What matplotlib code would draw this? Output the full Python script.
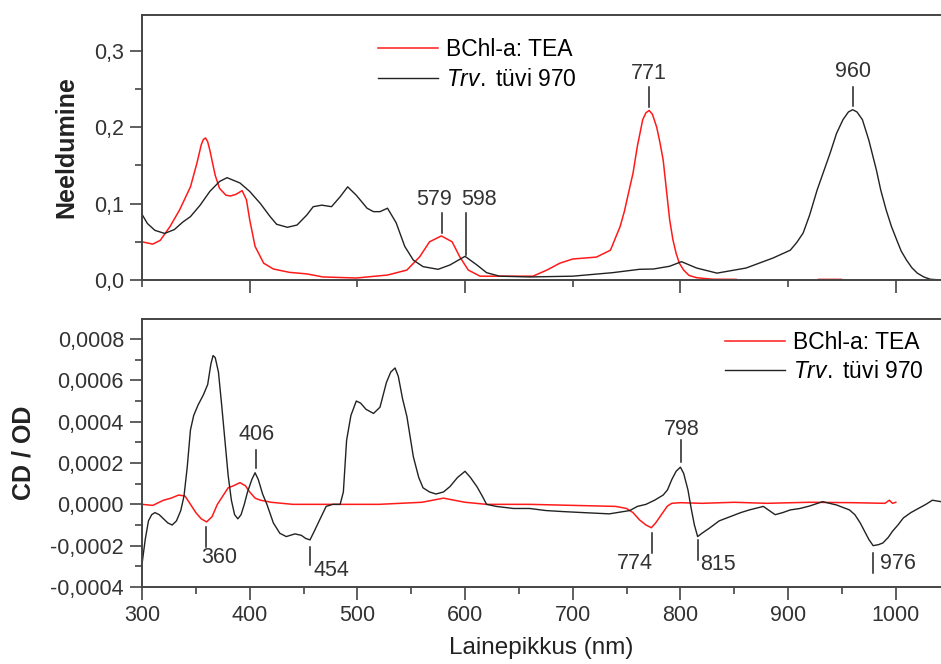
import numpy as np
import matplotlib.pyplot as plt
from matplotlib.ticker import MultipleLocator, FuncFormatter

plt.rcParams.update({'font.family': 'Liberation Sans', 'font.size': 15.5,
                     'mathtext.fontset': 'custom',
                     'mathtext.rm': 'Liberation Sans',
                     'mathtext.it': 'Liberation Sans:italic'})

# --- absorption (top) ---
abs_nm_red = [300, 310, 317, 326, 335, 345, 351, 355, 357, 359, 361, 363, 366, 368, 372,
              378, 382, 387, 393, 397, 400, 405, 413, 422, 437, 453, 468, 499, 528, 546,
              558, 567, 578, 588, 595, 603, 614, 663, 676, 688, 700, 722, 735, 744, 748,
              751, 756, 760, 765, 768, 771, 774, 778, 781, 784, 787, 790, 793, 796, 799,
              803, 808, 815, 830, 852, 856, 925, 928, 950, 953, 1000]
abs_red = [0.050, 0.047, 0.052, 0.070, 0.092, 0.122, 0.153, 0.177, 0.184, 0.186, 0.181, 0.170, 0.150, 0.137, 0.120,
           0.111, 0.110, 0.112, 0.117, 0.105, 0.079, 0.044, 0.022, 0.0144, 0.010, 0.008, 0.004, 0.0026, 0.0065, 0.013,
           0.0306, 0.050, 0.0577, 0.050, 0.0306, 0.013, 0.005, 0.005, 0.013, 0.022, 0.0275, 0.030, 0.039, 0.070, 0.090,
           0.109, 0.140, 0.175, 0.210, 0.219, 0.222, 0.217, 0.200, 0.180, 0.157, 0.118, 0.079, 0.053, 0.035, 0.022,
           0.013, 0.006, 0.003, 0.001, 0.0008, -0.003, -0.003, 0.0008, 0.0008, -0.003, -0.003]

abs_nm_black = [300, 305, 312, 321, 330, 338, 345, 354, 363, 372, 379, 391, 400, 410, 419, 425,
                435, 444, 453, 459, 467, 476, 484, 491, 499, 509, 515, 521, 528, 536, 544, 552,
                561, 575, 586, 600, 611, 620, 632, 660, 700, 737, 762, 775, 790, 801, 815, 834,
                861, 886, 902, 908, 914, 920, 927, 933, 939, 945, 951, 956, 960, 964, 969, 975,
                982, 986, 991, 996, 1001, 1005, 1010, 1015, 1020, 1026, 1032, 1042]
abs_black = [0.086, 0.074, 0.065, 0.061, 0.066, 0.076, 0.083, 0.098, 0.116, 0.129, 0.134, 0.127, 0.116, 0.100, 0.083, 0.073,
             0.069, 0.072, 0.085, 0.096, 0.098, 0.096, 0.109, 0.122, 0.111, 0.094, 0.0895, 0.0895, 0.094, 0.075, 0.044, 0.026,
             0.0175, 0.014, 0.0197, 0.031, 0.0197, 0.0096, 0.005, 0.004, 0.005, 0.0096, 0.014, 0.0144, 0.018, 0.024, 0.0157, 0.009,
             0.0157, 0.0288, 0.039, 0.049, 0.0616, 0.085, 0.118, 0.142, 0.166, 0.192, 0.210, 0.220, 0.223, 0.220, 0.210, 0.183,
             0.144, 0.118, 0.092, 0.070, 0.052, 0.038, 0.026, 0.016, 0.009, 0.004, 0.001, 0.0]

# --- CD / OD (bottom), values in 1e-4 ---
cd_nm_red = [300, 310, 320, 327, 334, 340, 345, 350, 355, 360, 365, 370, 375, 380, 385, 391, 396,
             400, 405, 410, 420, 440, 480, 520, 560, 580, 600, 620, 660, 700, 740, 750, 756, 762,
             768, 773, 777, 781, 785, 788, 792, 800, 820, 850, 880, 920, 960, 990, 994, 997, 1000]
cd_red = [0.0, -0.05, 0.2, 0.3, 0.45, 0.4, 0.0, -0.4, -0.7, -0.85, -0.6, 0.0, 0.4, 0.8, 0.9, 1.05, 0.9,
          0.6, 0.3, 0.2, 0.1, 0.0, 0.0, 0.0, 0.1, 0.3, 0.1, 0.0, 0.0, -0.05, -0.1, -0.2, -0.4, -0.75,
          -1.0, -1.13, -0.9, -0.6, -0.3, -0.08, 0.05, 0.08, 0.05, 0.1, 0.05, 0.1, 0.08, 0.05, 0.2, 0.05, 0.1]

cd_nm_black = [300, 303, 306, 309, 312, 316, 320, 324, 328, 332, 336, 339, 342, 345, 348, 352,
               357, 361, 364, 366, 368, 371, 374, 377, 380, 383, 386, 389, 392, 395, 398, 402,
               405, 408, 412, 416, 422, 428, 434, 442, 448, 452, 456, 460, 465, 471, 477, 484,
               487, 490, 494, 499, 503, 508, 515, 521, 527, 531, 535, 538, 542, 546, 552, 557,
               561, 567, 573, 580, 586, 593, 600, 605, 611, 616, 620, 629, 645, 660, 675, 691,
               710, 734, 753, 760, 768, 776, 784, 788, 792, 796, 800, 803, 807, 810, 813, 816,
               820, 827, 836, 846, 856, 864, 877, 888, 895, 902, 911, 920, 932, 945, 957, 962,
               967, 971, 975, 979, 984, 988, 993, 997, 1002, 1007, 1014, 1022, 1028, 1034, 1042]
cd_black = [-2.9, -1.7, -0.8, -0.5, -0.4, -0.5, -0.7, -0.9, -1.0, -0.8, -0.3, 0.4, 1.8, 3.6, 4.3, 4.8,
            5.3, 5.8, 6.8, 7.2, 7.1, 6.4, 4.8, 3.1, 1.4, 0.2, -0.5, -0.7, -0.5, 0.0, 0.6, 1.2,
            1.53, 1.2, 0.5, 0.0, -0.9, -1.4, -1.56, -1.43, -1.5, -1.65, -1.72, -1.3, -0.75, -0.1, 0.0, 0.0,
            0.6, 3.1, 4.3, 5.0, 4.9, 4.6, 4.4, 4.7, 5.9, 6.4, 6.6, 6.2, 5.1, 4.25, 2.3, 1.3,
            0.8, 0.6, 0.5, 0.6, 0.86, 1.3, 1.6, 1.3, 0.86, 0.4, 0.0, -0.1, -0.2, -0.2, -0.3, -0.35,
            -0.4, -0.46, -0.3, -0.1, 0.0, 0.2, 0.45, 0.7, 1.2, 1.6, 1.8, 1.5, 0.7, -0.2, -1.0, -1.56,
            -1.4, -1.15, -0.8, -0.6, -0.4, -0.27, -0.1, -0.5, -0.4, -0.27, -0.2, -0.08, 0.13, -0.03, -0.27, -0.5,
            -0.9, -1.3, -1.7, -2.0, -1.95, -1.87, -1.6, -1.3, -1.0, -0.66, -0.4, -0.17, 0.0, 0.2, 0.13]

lab_red = 'BChl-a: TEA'
lab_black = r'$\mathit{Trv.}$ tüvi 970'

# peak marks: (label, line x, line y0, line y1, text x, text y)
abs_marks = [('579', 578.5, 0.062, 0.088, 571, 0.105),
             ('598', 601, 0.033, 0.088, 613, 0.105),
             ('771', 771, 0.227, 0.253, 771, 0.270),
             ('960', 960, 0.228, 0.253, 960, 0.273)]
cd_marks = [('406', 406, 1.76, 2.63, 406, 3.36),
            ('360', 359.5, -1.09, -2.06, 372, -2.59),
            ('454', 456, -2.06, -2.93, 476, -3.18),
            ('774', 774, -1.38, -2.35, 758, -2.84),
            ('798', 801, 2.05, 3.12, 801, 3.60),
            ('815', 816, -1.72, -2.69, 835, -2.93),
            ('976', 978.5, -2.35, -3.32, 1002, -2.84)]

W, H = 941, 664
fig = plt.figure(figsize=(W / 100, H / 100), dpi=100)
ax1 = fig.add_axes([142 / W, 1 - 280 / H, 1 - 142 / W, 265 / H])
ax2 = fig.add_axes([142 / W, 1 - 587 / H, 1 - 142 / W, 268 / H])

red = '#ff1a1a'
blk = '#222222'
txt = '#333333'

ax1.plot(abs_nm_red, abs_red, color=red, lw=1.1, label=lab_red)
ax1.plot(abs_nm_black, abs_black, color=blk, lw=1.0, label=lab_black)
cd_r = np.array(cd_red) * 1e-4
cd_b = np.array(cd_black) * 1e-4
ax2.plot(cd_nm_red, cd_r, color=red, lw=1.1, label=lab_red)
ax2.plot(cd_nm_black, cd_b, color=blk, lw=1.0, label=lab_black)

for lab, lx, y0, y1, tx, ty in abs_marks:
    ax1.plot([lx, lx], [y0, y1], color=blk, lw=1.1)
    ax1.text(tx, ty, lab, ha='center', va='center', color=txt)
for lab, lx, y0, y1, tx, ty in cd_marks:
    ax2.plot([lx, lx], [y0 * 1e-4, y1 * 1e-4], color=blk, lw=1.1)
    ax2.text(tx, ty * 1e-4, lab, ha='center', va='center', color=txt)

ax1.set_xlim(300, 1042)
ax1.set_ylim(0, 0.347)
ax2.set_xlim(300, 1042)
ax2.set_ylim(-0.0004, 0.000897)

ax1.xaxis.set_major_locator(MultipleLocator(200))
ax1.xaxis.set_minor_locator(MultipleLocator(100))
ax1.tick_params(axis='x', which='both', labelbottom=False)
ax1.yaxis.set_major_locator(MultipleLocator(0.1))
ax1.yaxis.set_minor_locator(MultipleLocator(0.05))
ax1.yaxis.set_major_formatter(FuncFormatter(lambda v, p: f'{v:.1f}'.replace('.', ',')))

ax2.xaxis.set_major_locator(MultipleLocator(100))
ax2.xaxis.set_minor_locator(MultipleLocator(50))
ax2.yaxis.set_major_locator(MultipleLocator(0.0002))
ax2.yaxis.set_minor_locator(MultipleLocator(0.0001))
ax2.yaxis.set_major_formatter(FuncFormatter(lambda v, p: f'{v:.4f}'.replace('.', ',')))

for ax in (ax1, ax2):
    ax.spines['right'].set_visible(False)
    for s in ('left', 'top', 'bottom'):
        ax.spines[s].set_color('#444444')
        ax.spines[s].set_linewidth(1.4)
    ax.tick_params(which='major', direction='out', length=9, width=1.2, color='#444444',
                   labelcolor=txt, labelsize=15.5, pad=4)
    ax.tick_params(which='minor', direction='out', length=5, width=1.2, color='#444444')

ax1.set_ylabel('Neeldumine', fontsize=18, fontweight='bold', color='#222222')
ax1.yaxis.set_label_coords(-0.080, 0.5)
ax2.set_ylabel('CD / OD', fontsize=18, fontweight='bold', color='#222222')
ax2.yaxis.set_label_coords(-0.133, 0.5)
ax2.set_xlabel('Lainepikkus (nm)', fontsize=17.5, color='#222222', labelpad=8)

leg_kw = dict(bbox_transform=fig.transFigure, loc='center left', frameon=False, fontsize=16.5,
              handlelength=2.6, handletextpad=0.35, labelspacing=0.3, borderpad=0, borderaxespad=0)
ax1.legend(bbox_to_anchor=(378 / W, 1 - 64.5 / H), **leg_kw)
ax2.legend(bbox_to_anchor=(725 / W, 1 - 357 / H), **leg_kw)

fig.savefig('out.png', dpi=100)
